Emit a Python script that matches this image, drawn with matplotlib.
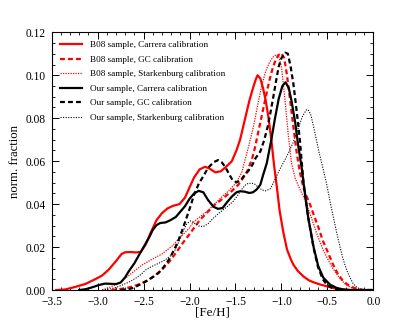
import numpy as np
import matplotlib
matplotlib.use("Agg")
import matplotlib.pyplot as plt
from matplotlib.ticker import MultipleLocator, FuncFormatter

plt.rcParams['font.family'] = ['Liberation Serif', 'DejaVu Serif']

# B08 sample, Carrera calibration (red solid)
x_b08_car = [-3.45, -3.35, -3.25, -3.13, -3.02, -2.95, -2.88, -2.80, -2.74, -2.70, -2.64, -2.58,
             -2.53, -2.48, -2.42, -2.36, -2.30, -2.24, -2.18, -2.11, -2.05, -2.00, -1.95, -1.89,
             -1.83, -1.78, -1.72, -1.66, -1.60, -1.54, -1.49, -1.45, -1.40, -1.35, -1.31, -1.28,
             -1.26, -1.23, -1.20, -1.17, -1.14, -1.11, -1.08, -1.05, -1.02, -0.98, -0.94, -0.90,
             -0.87, -0.82, -0.76, -0.70, -0.65, -0.58, -0.51, -0.45, -0.40, -0.33, -0.25, 0.0]
y_b08_car = [0.0, 0.0003, 0.0014, 0.0029, 0.0052, 0.0068, 0.0095, 0.0135, 0.0168, 0.0176, 0.0177, 0.0175,
             0.0178, 0.021, 0.027, 0.0325, 0.0358, 0.038, 0.0392, 0.040, 0.043, 0.0478, 0.0525, 0.0562,
             0.0574, 0.0565, 0.0548, 0.0553, 0.0575, 0.060, 0.065, 0.070, 0.079, 0.088, 0.094, 0.098,
             0.100, 0.0985, 0.094, 0.088, 0.080, 0.070, 0.058, 0.048, 0.037, 0.027, 0.019, 0.0145,
             0.0118, 0.0088, 0.0063, 0.0045, 0.0036, 0.0026, 0.0018, 0.0011, 0.0006, 0.0002, 0.0, 0.0]

# B08 sample, GC calibration (red dashed)
x_b08_gc = [-2.85, -2.75, -2.66, -2.58, -2.52, -2.45, -2.38, -2.30, -2.22, -2.15, -2.08, -2.01,
            -1.95, -1.89, -1.80, -1.72, -1.67, -1.60, -1.53, -1.47, -1.42, -1.37, -1.32, -1.29,
            -1.25, -1.22, -1.18, -1.15, -1.12, -1.09, -1.06, -1.03, -1.00, -0.97, -0.943, -0.907,
            -0.87, -0.834, -0.80, -0.76, -0.72, -0.69, -0.64, -0.60, -0.55, -0.49, -0.44, -0.39,
            -0.34, -0.29, -0.24, -0.18, -0.10, 0.0]
y_b08_gc = [0.0, 0.0005, 0.0012, 0.0022, 0.0032, 0.0047, 0.0067, 0.0095, 0.0132, 0.0172, 0.0215, 0.0255,
            0.029, 0.0325, 0.0365, 0.040, 0.0415, 0.044, 0.0465, 0.049, 0.052, 0.0555, 0.061, 0.066,
            0.074, 0.080, 0.088, 0.094, 0.0995, 0.104, 0.1075, 0.1095, 0.1103, 0.108, 0.101, 0.089,
            0.076, 0.064, 0.055, 0.0475, 0.043, 0.040, 0.034, 0.0295, 0.023, 0.0171, 0.012, 0.0078,
            0.0048, 0.0028, 0.0015, 0.0005, 0.0, 0.0]

# B08 sample, Starkenburg calibration (red dotted)
x_b08_sta = [-2.95, -2.90, -2.77, -2.63, -2.52, -2.41, -2.30, -2.19, -2.08, -2.00, -1.96, -1.89,
             -1.80, -1.67, -1.58, -1.49, -1.43, -1.40, -1.35, -1.30, -1.25, -1.21, -1.17, -1.13,
             -1.09, -1.06, -1.03, -1.00, -0.96, -0.925, -0.89, -0.85, -0.80, -0.76, -0.69, -0.617,
             -0.545, -0.454, -0.363, -0.30, -0.25, -0.18, -0.10, 0.0]
y_b08_sta = [0.0, 0.0008, 0.003, 0.0078, 0.0116, 0.0143, 0.0168, 0.0205, 0.0255, 0.029, 0.0315, 0.034,
             0.037, 0.0425, 0.046, 0.050, 0.055, 0.060, 0.068, 0.077, 0.088, 0.096, 0.102, 0.106,
             0.1085, 0.1095, 0.109, 0.104, 0.088, 0.072, 0.059, 0.052, 0.047, 0.0435, 0.0357, 0.0264,
             0.0186, 0.0109, 0.0054, 0.0025, 0.0013, 0.0003, 0.0, 0.0]

# Our sample, Carrera calibration (black solid)
x_our_car = [-3.20, -3.13, -3.05, -2.99, -2.92, -2.86, -2.80, -2.75, -2.70, -2.665, -2.60, -2.55,
             -2.50, -2.44, -2.40, -2.36, -2.32, -2.26, -2.21, -2.15, -2.10, -2.05, -2.00, -1.95,
             -1.90, -1.85, -1.80, -1.74, -1.69, -1.64, -1.59, -1.54, -1.49, -1.45, -1.40, -1.35,
             -1.31, -1.27, -1.23, -1.20, -1.16, -1.11, -1.07, -1.03, -0.99, -0.955, -0.92, -0.89,
             -0.85, -0.82, -0.78, -0.76, -0.71, -0.65, -0.60, -0.545, -0.47, -0.40, -0.33, -0.25, 0.0]
y_our_car = [0.0, 0.0004, 0.0014, 0.0023, 0.003, 0.0029, 0.0028, 0.0035, 0.006, 0.0085, 0.0125, 0.0163,
             0.020, 0.0245, 0.028, 0.0302, 0.0312, 0.0315, 0.0325, 0.034, 0.0365, 0.039, 0.0425, 0.045,
             0.0462, 0.0455, 0.042, 0.0388, 0.0378, 0.0382, 0.041, 0.0435, 0.0455, 0.046, 0.0458, 0.0452,
             0.0455, 0.0468, 0.049, 0.0535, 0.059, 0.070, 0.080, 0.089, 0.095, 0.0967, 0.094, 0.088,
             0.078, 0.068, 0.057, 0.050, 0.0341, 0.020, 0.0112, 0.0058, 0.0025, 0.001, 0.0003, 0.0, 0.0]

# Our sample, GC calibration (black dashed)
x_our_gc = [-2.75, -2.66, -2.60, -2.553, -2.50, -2.444, -2.39, -2.336, -2.28, -2.227, -2.17, -2.118,
            -2.07, -2.03, -1.99, -1.95, -1.90, -1.85, -1.80, -1.74, -1.69, -1.65, -1.61, -1.57,
            -1.53, -1.49, -1.45, -1.41, -1.36, -1.32, -1.28, -1.23, -1.19, -1.15, -1.12, -1.09,
            -1.06, -1.03, -1.00, -0.96, -0.93, -0.90, -0.87, -0.85, -0.82, -0.80, -0.78, -0.76,
            -0.71, -0.65, -0.60, -0.55, -0.50, -0.44, -0.38, -0.30, 0.0]
y_our_gc = [0.0, 0.0004, 0.0012, 0.0023, 0.0034, 0.0048, 0.0063, 0.008, 0.0108, 0.014, 0.0185, 0.0235,
            0.029, 0.034, 0.039, 0.0445, 0.0495, 0.053, 0.0568, 0.0595, 0.0605, 0.0595, 0.0572, 0.054,
            0.051, 0.0502, 0.0508, 0.053, 0.0555, 0.058, 0.0615, 0.0645, 0.0695, 0.076, 0.0825, 0.0895,
            0.097, 0.104, 0.108, 0.1105, 0.110, 0.104, 0.096, 0.089, 0.078, 0.070, 0.060, 0.050,
            0.034, 0.0195, 0.0105, 0.005, 0.0022, 0.0008, 0.0002, 0.0, 0.0]

# Our sample, Starkenburg calibration (black dotted)
x_our_sta = [-2.95, -2.88, -2.80, -2.735, -2.66, -2.59, -2.53, -2.48, -2.42, -2.37, -2.31, -2.26,
             -2.20, -2.155, -2.11, -2.07, -2.03, -1.99, -1.95, -1.90, -1.85, -1.80, -1.74, -1.68,
             -1.63, -1.58, -1.52, -1.47, -1.43, -1.39, -1.36, -1.32, -1.29, -1.25, -1.21, -1.17,
             -1.12, -1.07, -1.02, -0.97, -0.925, -0.87, -0.816, -0.77, -0.73, -0.71, -0.68, -0.65,
             -0.62, -0.59, -0.55, -0.51, -0.47, -0.436, -0.40, -0.363, -0.33, -0.29, -0.25, -0.22,
             -0.18, -0.145, -0.08, 0.0]
y_our_sta = [0.0, 0.0004, 0.0012, 0.0023, 0.0037, 0.0054, 0.0072, 0.0093, 0.0108, 0.0118, 0.013, 0.0142,
             0.0162, 0.0188, 0.0232, 0.0275, 0.0308, 0.0322, 0.0312, 0.0298, 0.0296, 0.0308, 0.0335, 0.0358,
             0.0375, 0.0392, 0.0415, 0.0445, 0.047, 0.049, 0.0497, 0.0497, 0.0493, 0.0478, 0.0466, 0.0462,
             0.0472, 0.0515, 0.056, 0.060, 0.0637, 0.069, 0.0755, 0.081, 0.0838, 0.084, 0.0815, 0.076,
             0.070, 0.064, 0.057, 0.0497, 0.041, 0.0341, 0.027, 0.0202, 0.0145, 0.0093, 0.0055, 0.003,
             0.0013, 0.0005, 0.0, 0.0]

fig = plt.figure(figsize=(4.15, 3.23), dpi=100)
ax = fig.add_axes([0.1246, 0.102, 0.775, 0.798])

ax.plot(x_b08_car, y_b08_car, color="red", lw=1.6, label="B08 sample, Carrera calibration")
ax.plot(x_b08_gc, y_b08_gc, color="red", lw=1.6, dashes=(2.2, 1.4), label="B08 sample, GC calibration")
ax.plot(x_b08_sta, y_b08_sta, color="red", lw=0.9, dashes=(1, 1), label="B08 sample, Starkenburg calibration")
ax.plot(x_our_car, y_our_car, color="black", lw=1.6, label="Our sample, Carrera calibration")
ax.plot(x_our_gc, y_our_gc, color="black", lw=1.6, dashes=(2.2, 1.4), label="Our sample, GC calibration")
ax.plot(x_our_sta, y_our_sta, color="black", lw=0.8, dashes=(1, 1.3), label="Our sample, Starkenburg calibration")

ax.set_xlim(-3.5, 0.0)
ax.set_ylim(0.0, 0.12)
ax.xaxis.set_major_locator(MultipleLocator(0.5))
ax.xaxis.set_minor_locator(MultipleLocator(0.1))
ax.yaxis.set_major_locator(MultipleLocator(0.02))
ax.yaxis.set_minor_locator(MultipleLocator(0.005))
ax.xaxis.set_major_formatter(FuncFormatter(lambda v, p: f"{v:.1f}".replace("-", "\u2212")))
ax.yaxis.set_major_formatter(FuncFormatter(lambda v, p: f"{v:.2f}"))
ax.tick_params(which="both", direction="in", top=True, right=True, labelsize=8.3)
ax.tick_params(which="major", length=5, width=0.7, pad=4.5)
ax.tick_params(which="minor", length=2.5, width=0.6)
for s in ax.spines.values():
    s.set_linewidth(0.8)

ax.set_xlabel("[Fe/H]", fontsize=9.4, labelpad=-1)
ax.set_ylabel("norm. fraction", fontsize=9.2, labelpad=3)

ax.legend(loc="upper left", frameon=False, fontsize=6.6, handlelength=2.35, handletextpad=0.9,
          labelspacing=0.67, borderaxespad=0.52)

fig.savefig("out.png", dpi=100)
